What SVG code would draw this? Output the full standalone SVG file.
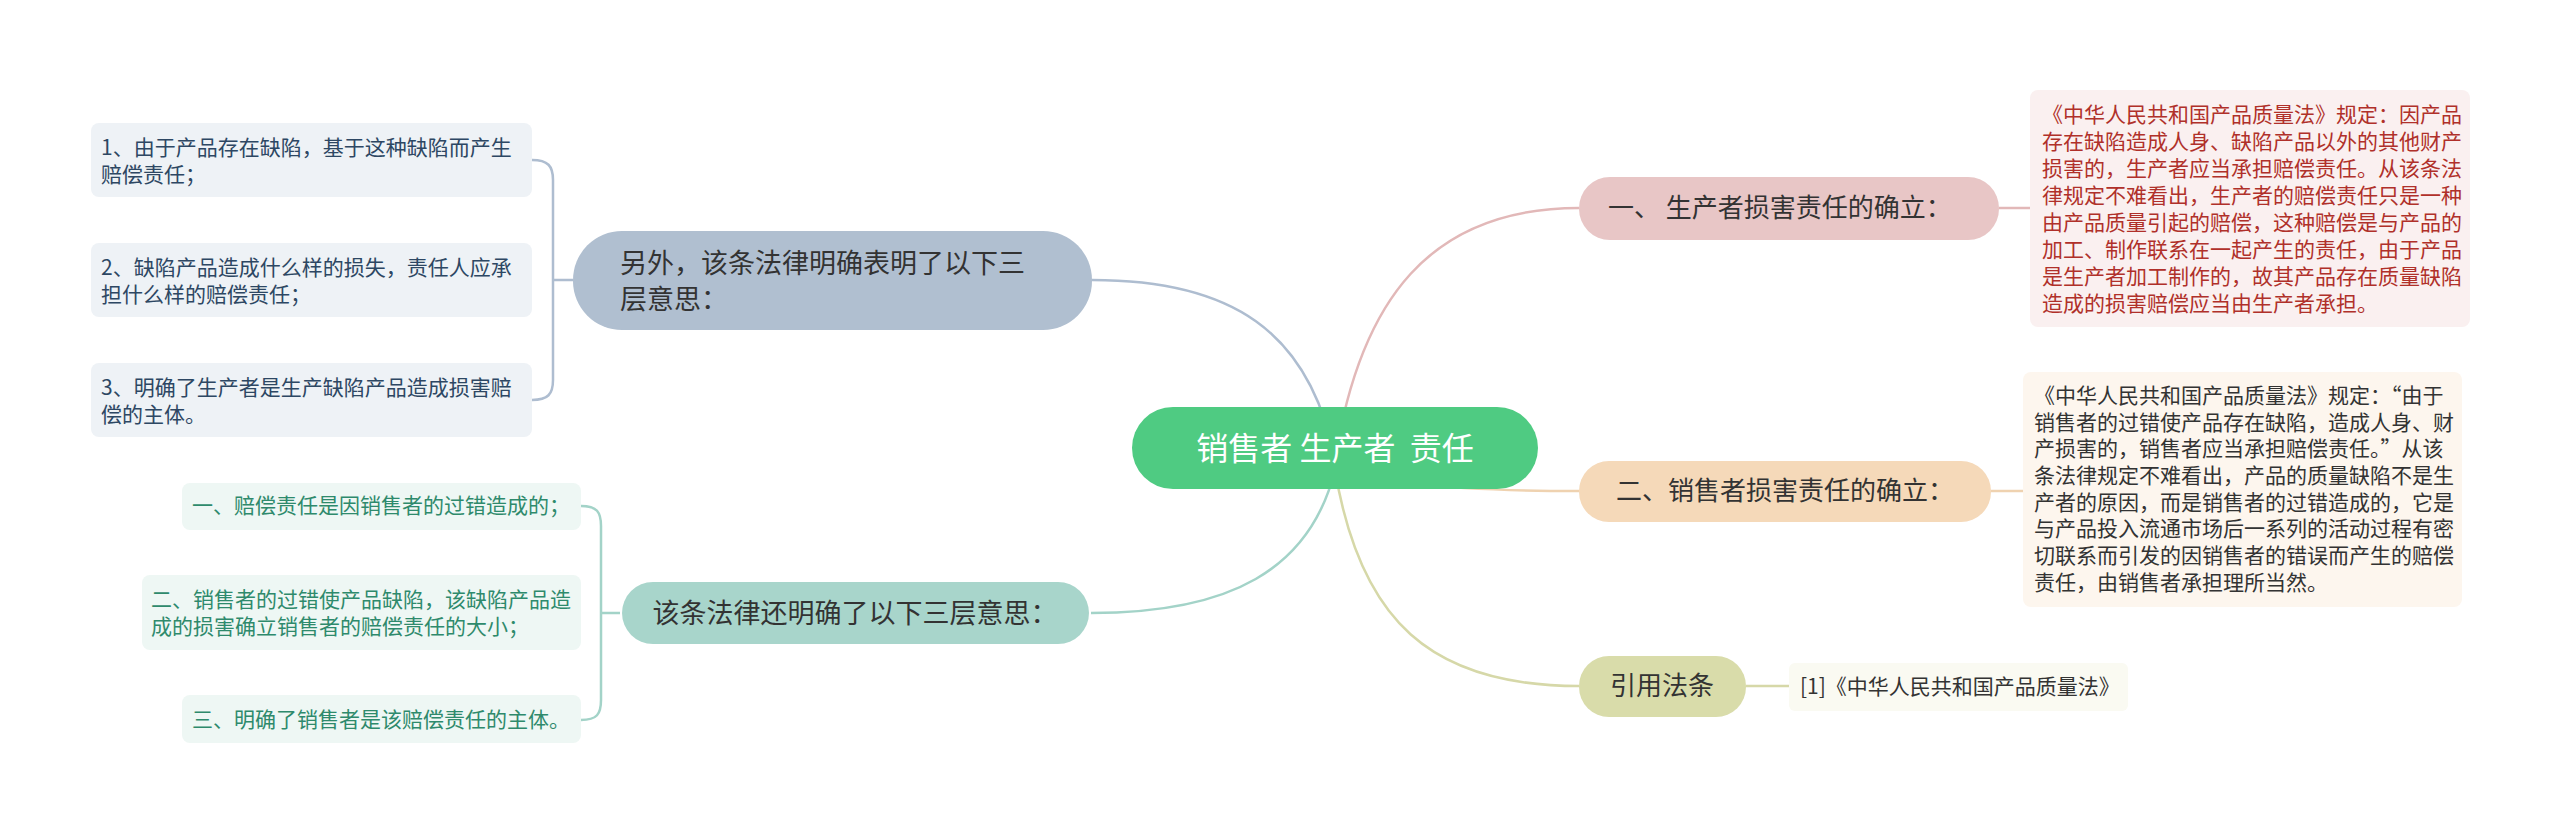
<svg xmlns="http://www.w3.org/2000/svg" width="2560" height="833" viewBox="0 0 2560 833">
<style>
text{font-family:"Noto Sans CJK SC","Liberation Sans",sans-serif}
.c{fill:none;stroke-width:2.5}
.t1{font-size:26px;fill:#333}
.sm{font-size:21px}
</style>
<rect width="2560" height="833" fill="#fff"/>
<g id="connectors">
<path class="c" stroke="#e2b8b8" d="M1335,460 C1360,300 1430,208 1579,208"/>
<path class="c" stroke="#efd2b0" d="M1335,465 C1370,480 1430,491 1579,491"/>
<path class="c" stroke="#d6d8a8" d="M1335,470 C1360,620 1430,686 1579,686"/>
<path class="c" stroke="#aebdd0" d="M1335,460 C1310,330 1230,280 1092,280"/>
<path class="c" stroke="#a3d3c8" d="M1335,470 C1310,570 1230,613 1091,613"/>
<path class="c" stroke="#e2b8b8" d="M1999,208 H2030"/>
<path class="c" stroke="#efd2b0" d="M1991,491 H2023"/>
<path class="c" stroke="#d6d8a8" d="M1746,686 H1789"/>
<path class="c" stroke="#aebdd0" d="M573,280 H553 M532,160 C548,160 553,166 553,180 V380 C553,394 548,400 532,400"/>
<path class="c" stroke="#a3d3c8" d="M620,613 H601 M581,506 C597,506 601,512 601,526 V700 C601,714 597,720 581,720"/>
</g>
<g id="center">
<rect x="1132" y="407" width="406" height="82" rx="41" fill="#4fcb82"/>
<text x="1335" y="460" font-size="32" fill="#fff" text-anchor="middle" xml:space="preserve">销售者 生产者  责任</text>
</g>
<g id="b1">
<rect x="1579" y="177" width="420" height="63" rx="31" fill="#e8c6c6"/>
<text class="t1" x="1608" y="217" xml:space="preserve">一、 生产者损害责任的确立：</text>
</g>
<g id="d1">
<rect x="2030" y="90" width="440" height="237" rx="8" fill="#faf0f0"/>
<g class="sm" fill="#b0302a">
<text x="2042" y="122">《中华人民共和国产品质量法》规定：因产品</text>
<text x="2042" y="149">存在缺陷造成人身、缺陷产品以外的其他财产</text>
<text x="2042" y="176">损害的，生产者应当承担赔偿责任。从该条法</text>
<text x="2042" y="203">律规定不难看出，生产者的赔偿责任只是一种</text>
<text x="2042" y="230">由产品质量引起的赔偿，这种赔偿是与产品的</text>
<text x="2042" y="257">加工、制作联系在一起产生的责任，由于产品</text>
<text x="2042" y="284">是生产者加工制作的，故其产品存在质量缺陷</text>
<text x="2042" y="311">造成的损害赔偿应当由生产者承担。</text>
</g>
</g>
<g id="b2">
<rect x="1579" y="461" width="412" height="61" rx="30" fill="#f5d9b9"/>
<text class="t1" x="1785" y="500" text-anchor="middle">二、销售者损害责任的确立：</text>
</g>
<g id="d2">
<rect x="2023" y="372" width="439" height="235" rx="8" fill="#fdf6ee"/>
<g class="sm" fill="#333">
<text x="2034" y="403">《中华人民共和国产品质量法》规定：“由于</text>
<text x="2034" y="430">销售者的过错使产品存在缺陷，造成人身、财</text>
<text x="2034" y="456">产损害的，销售者应当承担赔偿责任。”从该</text>
<text x="2034" y="483">条法律规定不难看出，产品的质量缺陷不是生</text>
<text x="2034" y="510">产者的原因，而是销售者的过错造成的，它是</text>
<text x="2034" y="536">与产品投入流通市场后一系列的活动过程有密</text>
<text x="2034" y="563">切联系而引发的因销售者的错误而产生的赔偿</text>
<text x="2034" y="590">责任，由销售者承担理所当然。</text>
</g>
</g>
<g id="b3">
<rect x="1579" y="656" width="167" height="61" rx="30" fill="#d9dcaa"/>
<text class="t1" x="1662" y="695" text-anchor="middle">引用法条</text>
</g>
<g id="d3">
<rect x="1789" y="663" width="339" height="48" rx="6" fill="#fafaf2"/>
<text class="sm" x="1800" y="694" fill="#333">[1]《中华人民共和国产品质量法》</text>
</g>
<g id="l1">
<rect x="573" y="231" width="519" height="99" rx="49" fill="#b0bfd0"/>
<text x="620" y="273" font-size="27" fill="#333">另外，该条法律明确表明了以下三</text>
<text x="620" y="309" font-size="27" fill="#333">层意思：</text>
</g>
<g id="l1c" class="sm" fill="#2d4763">
<rect x="91" y="123" width="441" height="74" rx="8" fill="#eef2f6"/>
<text x="101" y="155">1、由于产品存在缺陷，基于这种缺陷而产生</text>
<text x="101" y="182">赔偿责任；</text>
<rect x="91" y="243" width="441" height="74" rx="8" fill="#eef2f6"/>
<text x="101" y="275">2、缺陷产品造成什么样的损失，责任人应承</text>
<text x="101" y="302">担什么样的赔偿责任；</text>
<rect x="91" y="363" width="441" height="74" rx="8" fill="#eef2f6"/>
<text x="101" y="395">3、明确了生产者是生产缺陷产品造成损害赔</text>
<text x="101" y="422">偿的主体。</text>
</g>
<g id="l2">
<rect x="622" y="582" width="467" height="62" rx="31" fill="#a8d5cb"/>
<text x="855" y="623" font-size="27" fill="#333" text-anchor="middle">该条法律还明确了以下三层意思：</text>
</g>
<g id="l2c" class="sm" fill="#2e8a6c">
<rect x="182" y="483" width="399" height="47" rx="8" fill="#eef7f4"/>
<text x="192" y="513">一、赔偿责任是因销售者的过错造成的；</text>
<rect x="142" y="575" width="439" height="75" rx="8" fill="#eef7f4"/>
<text x="151" y="607">二、销售者的过错使产品缺陷，该缺陷产品造</text>
<text x="151" y="634">成的损害确立销售者的赔偿责任的大小；</text>
<rect x="182" y="695" width="399" height="48" rx="8" fill="#eef7f4"/>
<text x="192" y="727">三、明确了销售者是该赔偿责任的主体。</text>
</g>
</svg>
